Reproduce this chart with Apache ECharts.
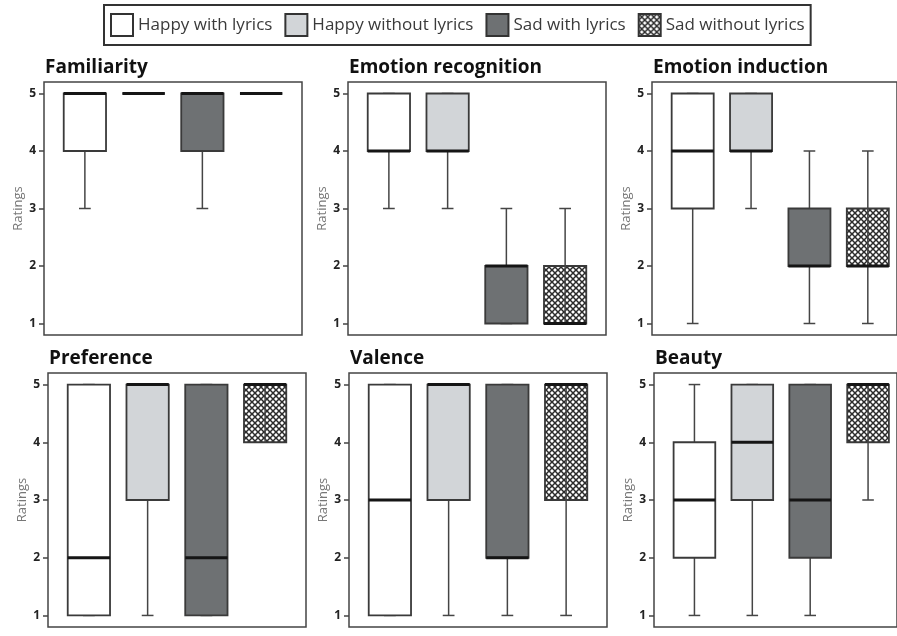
<!DOCTYPE html>
<html>
<head>
<meta charset="utf-8">
<script src="https://cdn.jsdelivr.net/npm/echarts@6/dist/echarts.min.js"></script>
<style>
  html, body { margin: 0; padding: 0; background: #fff; }
  #chart { width: 897px; height: 636px; }
</style>
</head>
<body>
<div id="chart"></div>
<script>
// panels, groups and the rating scale
const measures = ['Familiarity', 'Emotion recognition', 'Emotion induction', 'Preference', 'Valence', 'Beauty'];
const groups = ['Happy with lyrics', 'Happy without lyrics', 'Sad with lyrics', 'Sad without lyrics'];
const ratingTicks = [1, 2, 3, 4, 5];

// [min, Q1, median, Q3, max] per measure (same order as measures)
const happyLyrics   = [[3,4,5,5,5], [3,4,4,5,5], [1,3,4,5,5], [1,1,2,5,5], [1,1,3,5,5], [1,2,3,4,5]];
const happyNoLyrics = [[5,5,5,5,5], [3,4,4,5,5], [3,4,4,5,5], [1,3,5,5,5], [1,3,5,5,5], [1,3,4,5,5]];
const sadLyrics     = [[3,4,5,5,5], [1,1,2,2,3], [1,2,2,3,4], [1,1,2,5,5], [1,2,2,5,5], [1,2,3,5,5]];
const sadNoLyrics   = [[5,5,5,5,5], [1,1,1,2,3], [1,2,2,3,4], [4,4,5,5,5], [1,3,5,5,5], [3,4,5,5,5]];
const groupData = [happyLyrics, happyNoLyrics, sadLyrics, sadNoLyrics];

// crosshatch tile for the last group
function hatchTile() {
  const c = document.createElement('canvas');
  c.width = 6; c.height = 6;
  const g = c.getContext('2d');
  g.fillStyle = '#fff';
  g.fillRect(0, 0, 6, 6);
  g.strokeStyle = '#2a2a2a';
  g.lineWidth = 1.5;
  g.beginPath();
  g.moveTo(-1, -1); g.lineTo(7, 7);
  g.moveTo(7, -1); g.lineTo(-1, 7);
  g.stroke();
  return c;
}
const fills = ['#ffffff', '#d2d5d8', '#6e7173', { image: hatchTile(), repeat: 'repeat' }];

// frame position of each panel (px): left, top, height; right column runs off the page
const frames = [[44, 82, 253], [348, 82, 253], [652, 82, 253], [48, 373, 254], [349, 373, 254], [654, 373, 254]];
const frameW = 258;
const dataW = 235;

const chart = echarts.init(document.getElementById('chart'));

function renderBox(params, api) {
  const gi = api.value(0);
  const x = api.coord([gi, 3])[0];
  const y = v => api.coord([gi, v])[1];
  const yMin = y(api.value(1)), yQ1 = y(api.value(2)), yMed = y(api.value(3));
  const yQ3 = y(api.value(4)), yMax = y(api.value(5));
  const band = api.size([1, 0])[0];
  const half = band * 0.36;
  const cap = band * 0.1;
  const ln = { stroke: '#454545', lineWidth: 1.5 };
  const kids = [];
  const hatched = gi === 3;
  if (!hatched) {
    kids.push({ type: 'line', shape: { x1: x, y1: yMin, x2: x, y2: yQ1 }, style: ln });
    kids.push({ type: 'line', shape: { x1: x, y1: yQ3, x2: x, y2: yMax }, style: ln });
  }
  kids.push({ type: 'line', shape: { x1: x - cap, y1: yMin, x2: x + cap, y2: yMin }, style: ln });
  kids.push({ type: 'line', shape: { x1: x - cap, y1: yMax, x2: x + cap, y2: yMax }, style: ln });
  kids.push({
    type: 'rect',
    shape: { x: x - half, y: yQ3, width: half * 2, height: yQ1 - yQ3 },
    style: { fill: fills[gi], stroke: '#3a3a3a', lineWidth: 1.8 }
  });
  if (hatched) {
    kids.push({ type: 'line', shape: { x1: x, y1: yMin, x2: x, y2: yMax }, style: ln });
  }
  kids.push({ type: 'line', shape: { x1: x - half, y1: yMed, x2: x + half, y2: yMed }, style: { stroke: '#151515', lineWidth: 3 } });
  return { type: 'group', children: kids };
}

const grid = [], xAxis = [], yAxis = [], series = [], title = [];
measures.forEach(function (m, i) {
  const f = frames[i];
  const pageW = 897;
  // outer frame with the rating axis
  grid.push({ left: f[0], top: f[1], right: pageW - f[0] - frameW, height: f[2], show: true, borderColor: '#444', borderWidth: 1.5 });
  // inner area holding the four boxes
  grid.push({ left: f[0] + (frameW - dataW) / 2, top: f[1], right: pageW - f[0] - (frameW + dataW) / 2, height: f[2] });
  xAxis.push({ type: 'value', gridIndex: 2 * i, min: 0, max: 1, show: false });
  xAxis.push({ type: 'category', gridIndex: 2 * i + 1, data: groups, show: false });
  yAxis.push({
    type: 'value', gridIndex: 2 * i, min: 0.8, max: 5.2,
    name: 'Ratings', nameLocation: 'middle', nameGap: 18,
    nameTextStyle: { color: '#777', fontSize: 13, fontFamily: 'Open Sans' },
    axisLine: { show: false },
    axisTick: { show: true, length: 5, customValues: ratingTicks, lineStyle: { color: '#444', width: 1.5 } },
    axisLabel: { customValues: ratingTicks, fontWeight: 'bold', fontSize: 12, color: '#222', margin: 8, fontFamily: 'Open Sans' },
    splitLine: { show: false }
  });
  yAxis.push({ type: 'value', gridIndex: 2 * i + 1, min: 0.8, max: 5.2, show: false });
  title.push({
    text: m, left: f[0] + 1, top: f[1] - 24, padding: 0,
    textStyle: { fontFamily: 'Open Sans', fontWeight: 'bold', fontSize: 19, color: '#111' }
  });
  groups.forEach(function (g, gi) {
    series.push({
      type: 'custom', name: g,
      xAxisIndex: 2 * i + 1, yAxisIndex: 2 * i + 1,
      itemStyle: { color: fills[gi], borderColor: '#333', borderWidth: 2 },
      encode: { x: 0, y: [1, 2, 3, 4, 5] },
      renderItem: renderBox,
      clip: false,
      silent: true,
      data: [[gi].concat(groupData[gi][i])]
    });
  });
});

chart.setOption({
  animation: false,
  backgroundColor: '#fff',
  title: title,
  legend: {
    data: groups, left: 104, top: 5,
    icon: 'rect', itemWidth: 22, itemHeight: 22, itemGap: 12,
    padding: [8, 6],
    borderColor: '#333', borderWidth: 2,
    selectedMode: false,
    itemStyle: { borderColor: '#333', borderWidth: 2 },
    textStyle: { fontFamily: 'Open Sans', fontSize: 17, color: '#3a3a3a' }
  },
  grid: grid,
  xAxis: xAxis,
  yAxis: yAxis,
  series: series
});
</script>
</body>
</html>
